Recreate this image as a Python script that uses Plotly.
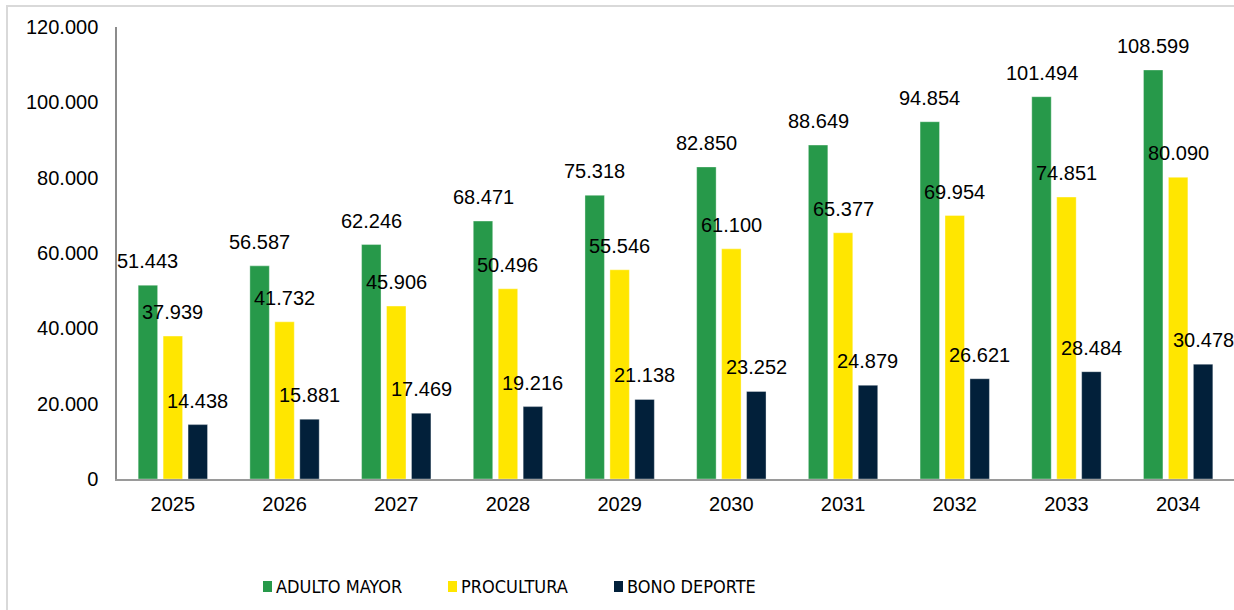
import plotly.graph_objects as go

# Proyección por año y por beneficio
years = ["2025", "2026", "2027", "2028", "2029", "2030", "2031", "2032", "2033", "2034"]
adulto_mayor = [51443, 56587, 62246, 68471, 75318, 82850, 88649, 94854, 101494, 108599]
procultura = [37939, 41732, 45906, 50496, 55546, 61100, 65377, 69954, 74851, 80090]
bono_deporte = [14438, 15881, 17469, 19216, 21138, 23252, 24879, 26621, 28484, 30478]

series_names = ["ADULTO MAYOR", "PROCULTURA", "BONO DEPORTE"]
series_values = [adulto_mayor, procultura, bono_deporte]
series_colors = ["#27994a", "#ffe600", "#02203a"]

W, H = 1234, 610
ML, MR, MT, MB = 117, 0, 27, 131
PW, PH = W - ML - MR, H - MT - MB
BARGAP, BARGROUPGAP = 0.33, 0.22

FONT = "Liberation Sans, Arial, Helvetica, sans-serif"
NARROW = "Liberation Sans Narrow, Arial Narrow, DejaVu Sans Condensed, Liberation Sans, sans-serif"


def px_x(px):
    return (px - ML) / PW


def px_y(py):
    return (H - MB - py) / PH


def fmt(v):
    return f"{v:,}".replace(",", ".")


fig = go.Figure()
for name, vals, color in zip(series_names, series_values, series_colors):
    fig.add_trace(go.Bar(
        x=years, y=vals, name=name,
        marker=dict(color=color, line=dict(color="rgba(255,255,255,0.6)", width=0.6)),
        showlegend=False,
    ))

# value labels sit a fixed distance above each bar
# (category axis: annotation x is the category's serial index)
cat_w = PW / len(years)
slot = cat_w * (1 - BARGAP) / len(series_names)
annotations = []
for i, vals in enumerate(series_values):
    offset = (i - (len(series_names) - 1) / 2) * slot
    for k, v in enumerate(vals):
        annotations.append(dict(
            x=k, y=v, xref="x", yref="y", text=fmt(v), showarrow=False,
            xshift=offset, yshift=24, yanchor="middle", xanchor="center",
            font=dict(family=FONT, size=20, color="#000000"),
        ))

# legend row along the bottom
legend_marks = [(263, 272), (448, 457), (614, 623)]
shapes = []
for (x0, x1), name, color in zip(legend_marks, series_names, series_colors):
    shapes.append(dict(
        type="rect", xref="paper", yref="paper",
        x0=px_x(x0), x1=px_x(x1), y0=px_y(592), y1=px_y(581),
        fillcolor=color, line=dict(width=0),
    ))
    annotations.append(dict(
        x=px_x(x1 + 2), y=px_y(586.5), xref="paper", yref="paper",
        text=name, showarrow=False, xanchor="left", yanchor="middle",
        font=dict(family=NARROW, size=18, color="#000000"),
    ))

# light frame around the chart
shapes.append(dict(
    type="rect", xref="paper", yref="paper",
    x0=px_x(7), x1=px_x(W + 20), y0=px_y(H + 20), y1=px_y(6),
    line=dict(color="#d9d9d9", width=2), fillcolor="rgba(0,0,0,0)", layer="below",
))

fig.update_layout(
    width=W, height=H,
    margin=dict(l=ML, r=MR, t=MT, b=MB, pad=0),
    paper_bgcolor="white", plot_bgcolor="white",
    barmode="group", bargap=BARGAP, bargroupgap=BARGROUPGAP,
    separators=",.",
    font=dict(family=FONT, size=20, color="#000000"),
    annotations=annotations, shapes=shapes,
    showlegend=False,
)
fig.update_xaxes(
    type="category", range=[-0.5, len(years) - 0.5],
    showline=True, linecolor="#9a9a9a", linewidth=2, showgrid=False,
    ticks="", ticklabelstandoff=6, tickfont=dict(family=FONT, size=20, color="#000000"),
)
fig.update_yaxes(
    range=[0, 120000], tickvals=[0, 20000, 40000, 60000, 80000, 100000, 120000],
    tickformat=",d", showline=True, linecolor="#8c8c8c", linewidth=1.5,
    showgrid=False, zeroline=False, ticks="", ticklabelstandoff=13,
    tickfont=dict(family=FONT, size=20, color="#000000"),
)

fig.write_html("out.html")
